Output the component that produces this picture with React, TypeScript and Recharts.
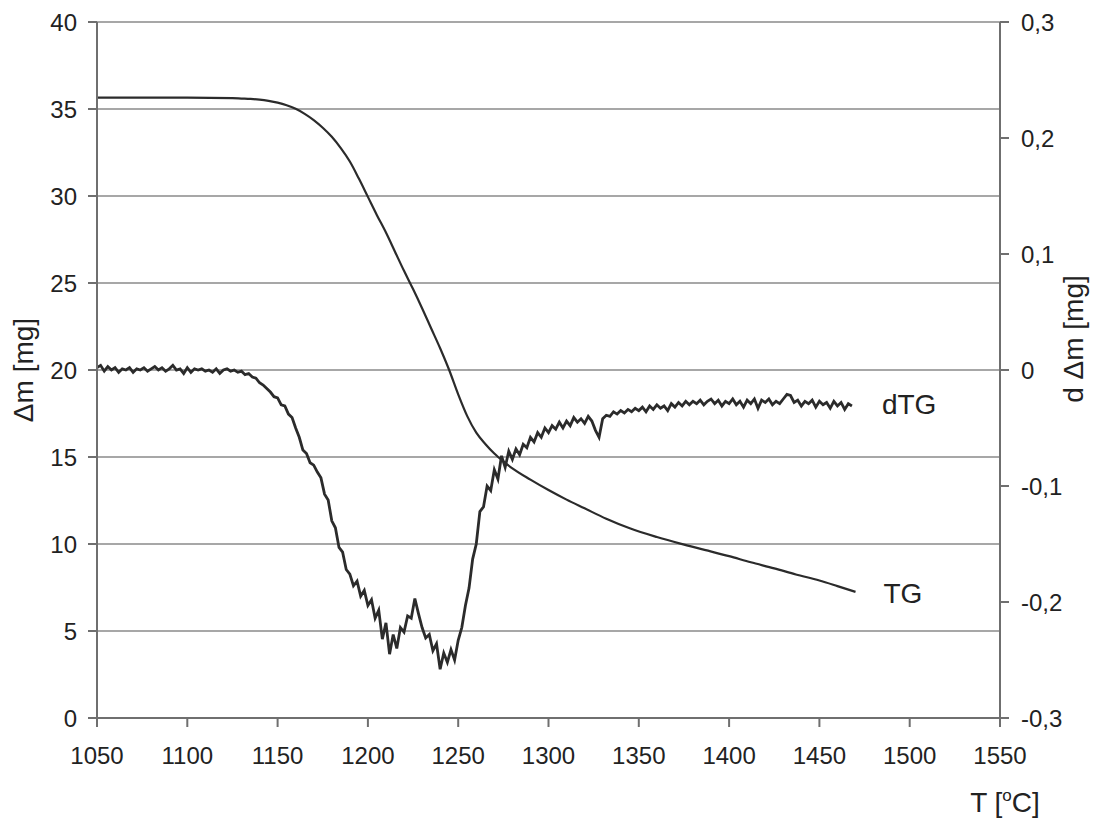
import React from "react";
import { LineChart, Line, XAxis, YAxis, CartesianGrid } from "recharts";

const FONT = "'Liberation Sans', Arial, sans-serif";
const INK = "#2b2b2b";
const AXIS = "#6f6f6f";

// temperature ticks [°C]
const tempTicks = [1050, 1100, 1150, 1200, 1250, 1300, 1350, 1400, 1450, 1500, 1550];
// left axis: Δm [mg]
const massTicks = [0, 5, 10, 15, 20, 25, 30, 35, 40];
// right axis: d Δm [mg]
const derivTicks = [-0.3, -0.2, -0.1, 0, 0.1, 0.2, 0.3];

// TG curve: [T, Δm]
const tgPoints: [number, number][] = [
  [1050, 35.65], [1100, 35.65], [1125, 35.62], [1130, 35.6], [1135, 35.58],
  [1140, 35.54], [1145, 35.47], [1150, 35.37], [1155, 35.22], [1160, 35.01],
  [1165, 34.72], [1170, 34.36], [1175, 33.92], [1180, 33.4], [1185, 32.75],
  [1190, 31.98], [1195, 31.0], [1200, 29.95], [1205, 28.9], [1210, 27.9],
  [1215, 26.8], [1220, 25.7], [1225, 24.65], [1230, 23.55], [1235, 22.4],
  [1240, 21.25], [1245, 20.0], [1250, 18.6], [1255, 17.35], [1260, 16.4],
  [1265, 15.75], [1270, 15.2], [1275, 14.75], [1280, 14.35], [1290, 13.7],
  [1300, 13.1], [1310, 12.55], [1320, 12.05], [1332, 11.45], [1345, 10.9],
  [1360, 10.4], [1373, 10.02], [1387, 9.65], [1400, 9.3], [1412, 8.95],
  [1425, 8.6], [1437, 8.25], [1450, 7.9], [1460, 7.58], [1470, 7.25],
];

// dTG curve: [T, d Δm] (noisy instrument trace)
const dtgPoints: [number, number][] = [
  [1050, 0.002], [1052, 0.004], [1054, -0.001], [1056, 0.003], [1058, 0.0],
  [1060, 0.002], [1062, -0.002], [1064, 0.001], [1066, 0.0], [1068, 0.002],
  [1070, -0.002], [1072, 0.001], [1074, 0.0], [1076, 0.002], [1078, -0.001],
  [1080, 0.001], [1082, 0.003], [1084, 0.0], [1086, 0.002], [1088, -0.001],
  [1090, 0.001], [1092, 0.004], [1094, 0.0], [1096, 0.001], [1098, -0.003],
  [1100, 0.002], [1102, -0.002], [1104, 0.001], [1106, 0.0], [1108, 0.001],
  [1110, -0.001], [1112, 0.0], [1114, -0.002], [1116, 0.001], [1118, -0.003],
  [1120, 0.0], [1122, 0.001], [1124, -0.001], [1126, 0.0], [1128, -0.002],
  [1130, -0.001], [1132, -0.004], [1134, -0.003], [1136, -0.006], [1138, -0.007],
  [1140, -0.011], [1142, -0.013], [1144, -0.016], [1146, -0.019], [1148, -0.023],
  [1150, -0.024], [1152, -0.03], [1154, -0.031], [1156, -0.038], [1158, -0.041],
  [1160, -0.05], [1162, -0.058], [1164, -0.069], [1166, -0.072], [1168, -0.08],
  [1170, -0.082], [1172, -0.088], [1174, -0.093], [1176, -0.107], [1178, -0.112],
  [1180, -0.13], [1182, -0.136], [1184, -0.153], [1186, -0.157], [1188, -0.172],
  [1190, -0.176], [1192, -0.186], [1194, -0.182], [1196, -0.195], [1198, -0.19],
  [1200, -0.203], [1202, -0.198], [1204, -0.214], [1206, -0.207], [1208, -0.232],
  [1210, -0.218], [1212, -0.245], [1214, -0.228], [1216, -0.24], [1218, -0.222],
  [1220, -0.226], [1222, -0.212], [1224, -0.214], [1226, -0.197], [1228, -0.21],
  [1230, -0.222], [1232, -0.231], [1234, -0.228], [1236, -0.242], [1238, -0.236],
  [1240, -0.258], [1242, -0.244], [1244, -0.252], [1246, -0.241], [1248, -0.25],
  [1250, -0.233], [1252, -0.222], [1254, -0.203], [1256, -0.188], [1258, -0.163],
  [1260, -0.15], [1262, -0.122], [1264, -0.118], [1266, -0.1], [1268, -0.104],
  [1270, -0.086], [1272, -0.094], [1274, -0.074], [1276, -0.084], [1278, -0.07],
  [1280, -0.077], [1282, -0.068], [1284, -0.073], [1286, -0.064], [1288, -0.067],
  [1290, -0.058], [1292, -0.062], [1294, -0.054], [1296, -0.058], [1298, -0.05],
  [1300, -0.054], [1302, -0.048], [1304, -0.051], [1306, -0.045], [1308, -0.05],
  [1310, -0.044], [1312, -0.048], [1314, -0.041], [1316, -0.045], [1318, -0.042],
  [1320, -0.046], [1322, -0.04], [1324, -0.044], [1326, -0.052], [1328, -0.058],
  [1330, -0.042], [1332, -0.039], [1334, -0.04], [1336, -0.036], [1338, -0.038],
  [1340, -0.035], [1342, -0.037], [1344, -0.034], [1346, -0.036], [1348, -0.033],
  [1350, -0.035], [1352, -0.032], [1354, -0.036], [1356, -0.031], [1358, -0.034],
  [1360, -0.03], [1362, -0.033], [1364, -0.031], [1366, -0.035], [1368, -0.029],
  [1370, -0.032], [1372, -0.028], [1374, -0.031], [1376, -0.027], [1378, -0.03],
  [1380, -0.027], [1382, -0.029], [1384, -0.026], [1386, -0.03], [1388, -0.027],
  [1390, -0.025], [1392, -0.029], [1394, -0.026], [1396, -0.031], [1398, -0.027],
  [1400, -0.029], [1402, -0.025], [1404, -0.03], [1406, -0.027], [1408, -0.032],
  [1410, -0.026], [1412, -0.029], [1414, -0.025], [1416, -0.033], [1418, -0.026],
  [1420, -0.028], [1422, -0.025], [1424, -0.03], [1426, -0.027], [1428, -0.029],
  [1430, -0.025], [1432, -0.021], [1434, -0.022], [1436, -0.028], [1438, -0.026],
  [1440, -0.031], [1442, -0.027], [1444, -0.029], [1446, -0.026], [1448, -0.032],
  [1450, -0.027], [1452, -0.03], [1454, -0.028], [1456, -0.033], [1458, -0.027],
  [1460, -0.031], [1462, -0.028], [1464, -0.034], [1466, -0.029], [1468, -0.031],
];

const tgData = tgPoints.map(([T, m]) => ({ T, m }));
const dtgData = dtgPoints.map(([T, d]) => ({ T, d }));

const commaFmt = (v: number) => (v === 0 ? "0" : v.toFixed(1).replace(".", ","));

const tickStyle = { fontSize: 24, fill: "#222", fontFamily: FONT };

// name tag drawn next to the last point of a series
const endTag = (text: string, last: number, dx: number, dy: number) => (p: any) =>
  p.index === last ? (
    <text x={p.x + dx} y={p.y + dy} fontSize={28} fontFamily={FONT} fill="#222">
      {text}
    </text>
  ) : null;

const LeftTitle = ({ viewBox }: any) => {
  const x = viewBox.x + 23;
  const y = viewBox.y + viewBox.height / 2;
  return (
    <text x={x} y={y} transform={`rotate(-90 ${x} ${y})`} textAnchor="middle" dominantBaseline="central"
      fontSize={28} fontFamily={FONT} fill="#222">
      Δm [mg]
    </text>
  );
};

const RightTitle = ({ viewBox }: any) => {
  const x = viewBox.x + 73;
  const y = viewBox.y + viewBox.height / 2 - 31;
  return (
    <text x={x} y={y} transform={`rotate(-90 ${x} ${y})`} textAnchor="middle" dominantBaseline="central"
      fontSize={28} fontFamily={FONT} fill="#222">
      d Δm [mg]
    </text>
  );
};

const BottomTitle = ({ viewBox }: any) => (
  <text x={viewBox.x + viewBox.width + 5} y={viewBox.y + 94} textAnchor="middle"
    fontSize={28} fontFamily={FONT} fill="#222">
    T [<tspan fontSize={17} dy={-11}>o</tspan><tspan dy={11}>C]</tspan>
  </text>
);

export default function App() {
  return (
    <div style={{ position: "absolute", left: 0, top: 0, width: 1094, height: 824, background: "#fff" }}>
      <LineChart width={1094} height={824} margin={{ top: 22, right: 0, bottom: 0, left: 0 }}>
        <CartesianGrid yAxisId="left" vertical={false} stroke="#8a8a8a" strokeWidth={1.5} />
        <XAxis
          type="number"
          dataKey="T"
          domain={[1050, 1550]}
          ticks={tempTicks}
          interval={0}
          height={106}
          tick={tickStyle}
          tickSize={9}
          tickMargin={20}
          stroke={AXIS}
          strokeWidth={2}
          allowDataOverflow
          label={<BottomTitle />}
        />
        <YAxis
          yAxisId="left"
          orientation="left"
          domain={[0, 40]}
          ticks={massTicks}
          interval={0}
          width={97}
          tick={tickStyle}
          tickSize={9}
          tickMargin={11}
          stroke={AXIS}
          strokeWidth={2}
          label={<LeftTitle />}
        />
        <YAxis
          yAxisId="right"
          orientation="right"
          domain={[-0.3, 0.3]}
          ticks={derivTicks}
          interval={0}
          width={94}
          tick={{ ...tickStyle, textAnchor: "start" }}
          tickFormatter={commaFmt}
          tickSize={9}
          tickMargin={12}
          stroke={AXIS}
          strokeWidth={2}
          label={<RightTitle />}
        />
        <Line
          yAxisId="right"
          data={dtgData}
          dataKey="d"
          type="linear"
          stroke={INK}
          strokeWidth={2.8}
          dot={false}
          isAnimationActive={false}
          label={endTag("dTG", dtgData.length - 1, 30, 8)}
        />
        <Line
          yAxisId="left"
          data={tgData}
          dataKey="m"
          type="monotone"
          stroke={INK}
          strokeWidth={2.2}
          dot={false}
          isAnimationActive={false}
          label={endTag("TG", tgData.length - 1, 28, 11)}
        />
      </LineChart>
    </div>
  );
}
